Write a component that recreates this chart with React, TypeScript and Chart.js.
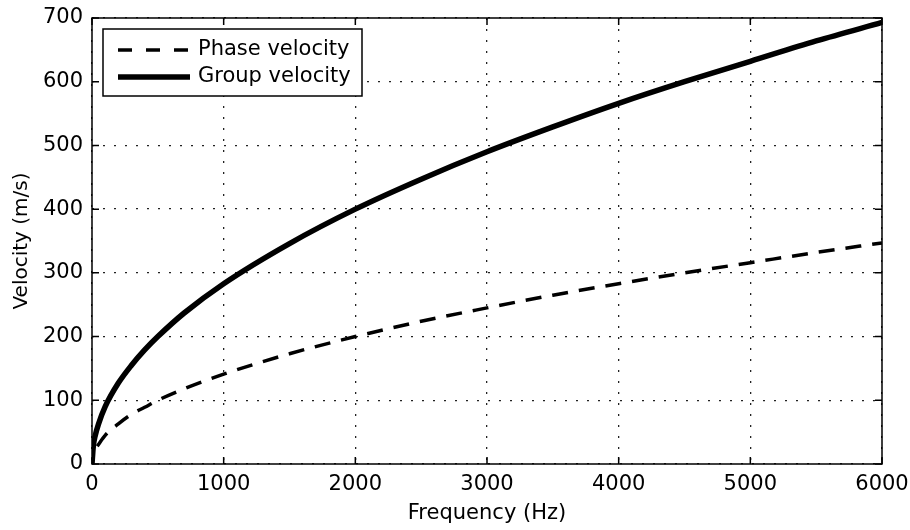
import React, { useEffect, useRef } from "react";
import { Chart, registerables } from "chart.js";

Chart.register(...registerables);

const groupFreq = [0, 10, 25, 50, 100, 200, 300, 400, 500, 700, 1000, 1500, 2000, 2500, 3000, 3500, 4000, 4500, 5000, 5500, 6000];
const groupVel = [0, 28, 45, 63, 90, 127, 155, 179, 200, 237, 283, 346, 400, 447, 490, 529, 566, 600, 632, 664, 693];
const phaseFreq = [40, 100, 200, 300, 400, 500, 700, 1000, 1500, 2000, 2500, 3000, 3500, 4000, 4500, 5000, 5500, 6000];
const phaseVel = [28, 45, 63, 78, 89, 100, 118, 141, 173, 200, 224, 245, 265, 283, 300, 316, 332, 347];
const seriesNames = ["Phase velocity", "Group velocity"];
const xTicks = [0, 1000, 2000, 3000, 4000, 5000, 6000];
const yTicks = [0, 100, 200, 300, 400, 500, 600, 700];

const FONT = "'DejaVu Sans', sans-serif";

const framePlugin = {
  id: "frameAndLegend",
  afterDatasetsDraw(chart: any) {
    const { ctx, chartArea } = chart;
    const { left, right, top, bottom } = chartArea;
    const xs = chart.scales.x;
    const ys = chart.scales.y;
    ctx.save();
    ctx.strokeStyle = "#000";
    ctx.lineWidth = 1.5;
    ctx.setLineDash([]);
    ctx.strokeRect(left, top, right - left, bottom - top);
    const tl = 7;
    ctx.beginPath();
    xTicks.forEach((v) => {
      const px = xs.getPixelForValue(v);
      ctx.moveTo(px, bottom);
      ctx.lineTo(px, bottom - tl);
      ctx.moveTo(px, top);
      ctx.lineTo(px, top + tl);
    });
    yTicks.forEach((v) => {
      const py = ys.getPixelForValue(v);
      ctx.moveTo(left, py);
      ctx.lineTo(left + tl, py);
      ctx.moveTo(right, py);
      ctx.lineTo(right - tl, py);
    });
    ctx.stroke();

    // legend box
    const bx = left + 11;
    const by = top + 11;
    const bw = 259;
    const bh = 67;
    ctx.fillStyle = "#fff";
    ctx.fillRect(bx, by, bw, bh);
    ctx.lineWidth = 1.5;
    ctx.strokeRect(bx, by, bw, bh);
    const rows = [by + 21, by + 48];
    const x1 = bx + 15;
    const x2 = bx + 87;
    ctx.beginPath();
    ctx.lineWidth = 3.5;
    ctx.setLineDash([14, 14]);
    ctx.moveTo(x1, rows[0]);
    ctx.lineTo(x2, rows[0]);
    ctx.stroke();
    ctx.beginPath();
    ctx.lineWidth = 5.5;
    ctx.setLineDash([]);
    ctx.moveTo(x1, rows[1]);
    ctx.lineTo(x2, rows[1]);
    ctx.stroke();
    ctx.fillStyle = "#000";
    ctx.font = `21px ${FONT}`;
    ctx.textBaseline = "middle";
    ctx.textAlign = "left";
    ctx.fillText(seriesNames[0], x2 + 8, rows[0]);
    ctx.fillText(seriesNames[1], x2 + 8, rows[1]);
    ctx.restore();
  },
};

export default function App() {
  const ref = useRef<HTMLCanvasElement | null>(null);
  useEffect(() => {
    if (!ref.current) return;
    const chart = new Chart(ref.current, {
      type: "line",
      data: {
        datasets: [
          {
            label: seriesNames[0],
            data: phaseFreq.map((f, i) => ({ x: f, y: phaseVel[i] })),
            borderColor: "#000",
            borderWidth: 3.5,
            borderDash: [16, 11],
            pointRadius: 0,
            cubicInterpolationMode: "monotone",
            fill: false,
          },
          {
            label: seriesNames[1],
            data: groupFreq.map((f, i) => ({ x: f, y: groupVel[i] })),
            borderColor: "#000",
            borderWidth: 5.5,
            pointRadius: 0,
            cubicInterpolationMode: "monotone",
            fill: false,
          },
        ],
      },
      options: {
        animation: false,
        responsive: false,
        devicePixelRatio: 1,
        layout: { padding: { left: 0, top: 18, right: 28, bottom: 0 } },
        plugins: { legend: { display: false }, tooltip: { enabled: false } },
        scales: {
          x: {
            type: "linear",
            min: 0,
            max: 6000,
            afterBuildTicks: (s: any) => {
              s.ticks = xTicks.map((v) => ({ value: v }));
            },
            afterFit: (s: any) => {
              s.height = 66;
              s.paddingLeft = 0;
              s.paddingRight = 0;
            },
            ticks: {
              color: "#000",
              font: { family: FONT, size: 21 },
              padding: 8,
              maxRotation: 0,
              callback: (v: any) => String(v),
            },
            grid: {
              color: "#222",
              lineWidth: 1.3,
              drawTicks: false,
            },
            border: { display: false, dash: [2, 9] },
            title: {
              display: true,
              text: "Frequency (Hz)",
              color: "#000",
              font: { family: FONT, size: 21 },
              padding: { top: 0, bottom: 4 },
            },
          },
          y: {
            type: "linear",
            min: 0,
            max: 700,
            afterBuildTicks: (s: any) => {
              s.ticks = yTicks.map((v) => ({ value: v }));
            },
            afterFit: (s: any) => {
              s.width = 92;
              s.paddingTop = 0;
              s.paddingBottom = 0;
            },
            ticks: {
              color: "#000",
              font: { family: FONT, size: 21 },
              padding: 9,
              callback: (v: any) => String(v),
            },
            grid: {
              color: "#222",
              lineWidth: 1.3,
              drawTicks: false,
            },
            border: { display: false, dash: [2, 9] },
            title: {
              display: true,
              text: "Velocity (m/s)",
              color: "#000",
              font: { family: FONT, size: 20 },
              padding: { top: 10, bottom: 0 },
            },
          },
        },
      },
      plugins: [framePlugin],
    });
    return () => chart.destroy();
  }, []);
  return (
    <div style={{ position: "absolute", left: 0, top: 0, width: 910, height: 530, background: "#fff" }}>
      <canvas ref={ref} width={910} height={530} />
    </div>
  );
}
